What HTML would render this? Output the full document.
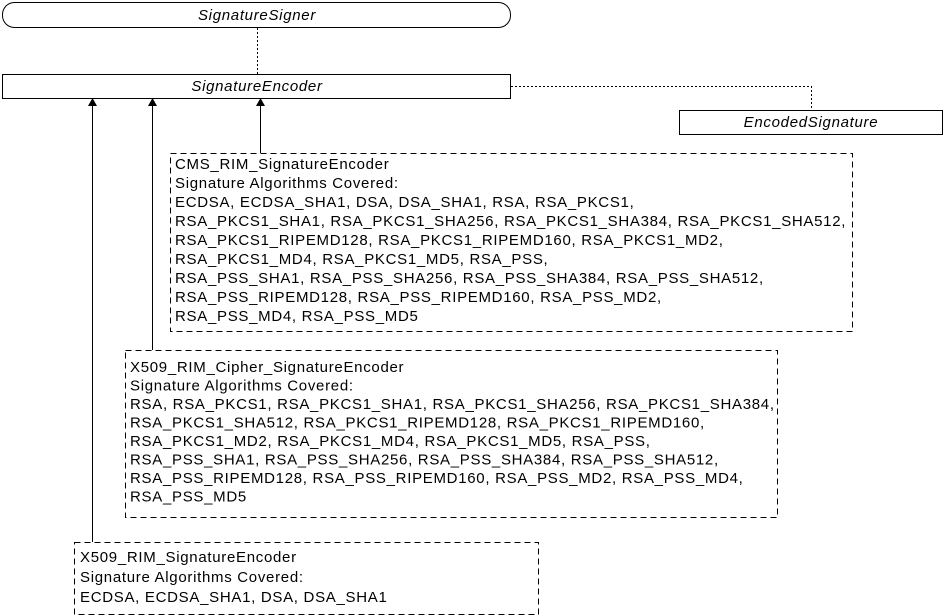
<!DOCTYPE html>
<html><head><meta charset="utf-8"><style>
html,body{margin:0;padding:0;background:#fff;}
svg{display:block;font-family:"Liberation Sans",Arial,sans-serif;font-size:15px;letter-spacing:0.7px;}
</style></head><body>
<svg width="947" height="616" viewBox="0 0 947 616" xmlns="http://www.w3.org/2000/svg">
<rect x="0" y="0" width="947" height="616" fill="#fff"/>
<g fill="none" stroke="#000" stroke-width="1">
<rect x="2.5" y="2.5" width="508" height="25" rx="12" ry="12"/>
<rect x="2.5" y="74.5" width="508" height="24"/>
<rect x="679.5" y="110.5" width="263" height="24"/>
<line x1="257.5" y1="28" x2="257.5" y2="74" stroke-dasharray="2,2"/>
<polyline points="511,86.5 811.5,86.5 811.5,110" stroke-dasharray="2,2"/>
<rect x="170.5" y="153.5" width="682" height="178" stroke-dasharray="6,4"/>
<rect x="125.5" y="350.5" width="652" height="167" stroke-dasharray="6,4"/>
<rect x="74.5" y="542.5" width="464" height="72" stroke-dasharray="6,4"/>
<line x1="92.5" y1="104" x2="92.5" y2="542"/>
<line x1="152.5" y1="104" x2="152.5" y2="350"/>
<line x1="260.5" y1="104" x2="260.5" y2="153"/>
</g>
<g fill="#000">
<polygon points="92.5,98 88,106 97,106"/>
<polygon points="152.5,98 148,106 157,106"/>
<polygon points="260.5,98 256,106 265,106"/>
</g>
<g fill="#000" font-style="italic" text-anchor="middle">
<text x="257" y="20">SignatureSigner</text>
<text x="257" y="91">SignatureEncoder</text>
<text x="811" y="127">EncodedSignature</text>
</g>
<g fill="#000">
<text x="175" y="169">CMS_RIM_SignatureEncoder</text>
<text x="175" y="188">Signature Algorithms Covered:</text>
<text x="175" y="207">ECDSA, ECDSA_SHA1, DSA, DSA_SHA1, RSA, RSA_PKCS1,</text>
<text x="175" y="226">RSA_PKCS1_SHA1, RSA_PKCS1_SHA256, RSA_PKCS1_SHA384, RSA_PKCS1_SHA512,</text>
<text x="175" y="245">RSA_PKCS1_RIPEMD128, RSA_PKCS1_RIPEMD160, RSA_PKCS1_MD2,</text>
<text x="175" y="264">RSA_PKCS1_MD4, RSA_PKCS1_MD5, RSA_PSS,</text>
<text x="175" y="283">RSA_PSS_SHA1, RSA_PSS_SHA256, RSA_PSS_SHA384, RSA_PSS_SHA512,</text>
<text x="175" y="302">RSA_PSS_RIPEMD128, RSA_PSS_RIPEMD160, RSA_PSS_MD2,</text>
<text x="175" y="321">RSA_PSS_MD4, RSA_PSS_MD5</text>

<text x="130" y="372">X509_RIM_Cipher_SignatureEncoder</text>
<text x="130" y="390.5">Signature Algorithms Covered:</text>
<text x="130" y="409">RSA, RSA_PKCS1, RSA_PKCS1_SHA1, RSA_PKCS1_SHA256, RSA_PKCS1_SHA384,</text>
<text x="130" y="427.5">RSA_PKCS1_SHA512, RSA_PKCS1_RIPEMD128, RSA_PKCS1_RIPEMD160,</text>
<text x="130" y="446">RSA_PKCS1_MD2, RSA_PKCS1_MD4, RSA_PKCS1_MD5, RSA_PSS,</text>
<text x="130" y="464.5">RSA_PSS_SHA1, RSA_PSS_SHA256, RSA_PSS_SHA384, RSA_PSS_SHA512,</text>
<text x="130" y="483">RSA_PSS_RIPEMD128, RSA_PSS_RIPEMD160, RSA_PSS_MD2, RSA_PSS_MD4,</text>
<text x="130" y="501.5">RSA_PSS_MD5</text>

<text x="80" y="562">X509_RIM_SignatureEncoder</text>
<text x="80" y="582">Signature Algorithms Covered:</text>
<text x="80" y="602">ECDSA, ECDSA_SHA1, DSA, DSA_SHA1</text>
</g>
</svg>
</body></html>
